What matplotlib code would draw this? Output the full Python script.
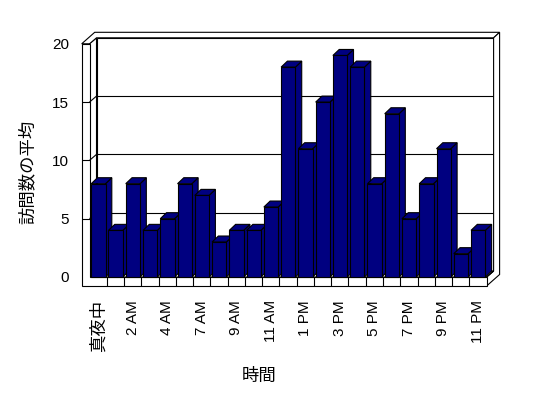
import matplotlib
matplotlib.use("Agg")
import matplotlib.pyplot as plt
from matplotlib.patches import Polygon

# ---- data ----
hours = ["真夜中", "1 AM", "2 AM", "3 AM", "4 AM", "5 AM", "7 AM", "8 AM", "9 AM",
         "10 AM", "11 AM", "12 PM", "1 PM", "2 PM", "3 PM", "4 PM", "5 PM", "6 PM",
         "7 PM", "8 PM", "9 PM", "10 PM", "11 PM"]
visits = [8, 4, 8, 4, 5, 8, 7, 3, 4, 4, 6, 18, 11, 15, 19, 18, 8, 14, 5, 8, 11, 2, 4]
y_ticks = [0, 5, 10, 15, 20]
x_title = "時間"
y_title = "訪問数の平均"

W, H = 548, 398
fig = plt.figure(figsize=(W / 100, H / 100), dpi=100)
fig.patch.set_facecolor("white")

# front plane in pixels
px_left, px_right = 89.5, 486.6
px_zero, px_top = 277.0, 43.8
ax = fig.add_axes([px_left / W, (H - px_zero) / H,
                   (px_right - px_left) / W, (px_zero - px_top) / H])
n = len(visits)
ymax = 20
ax.set_xlim(0, n)
ax.set_ylim(0, ymax)
for s in ax.spines.values():
    s.set_visible(False)
ax.patch.set_visible(False)

ppc = (px_right - px_left) / n          # pixels per category
ppv = (px_zero - px_top) / ymax         # pixels per value unit

def off(dx_px, dy_px):
    return dx_px / ppc, dy_px / ppv

D1x, D1y = off(7, 6)       # back wall front face depth
D2x, D2y = off(13, 11.5)   # back wall back face depth
Bx, By = off(6.3, 6)       # bar depth
xL = -7.8 / ppc            # left wall outer edge
fth = 9 / ppv              # floor thickness
xR = n

EC = "black"
LW = 0.8

def poly(pts, fc="white", z=1):
    ax.add_patch(Polygon(pts, closed=True, facecolor=fc, edgecolor=EC,
                         linewidth=LW, clip_on=False, zorder=z, joinstyle="miter"))

def line(xs, ys, z=2):
    ax.plot(xs, ys, color=EC, linewidth=LW, clip_on=False, zorder=z,
            solid_capstyle="butt")

# back wall front face
poly([(D1x, D1y), (xR + D1x, D1y), (xR + D1x, ymax + D1y), (D1x, ymax + D1y)], z=1)
# gridlines on back wall + left wall inner face
for v in y_ticks[1:-1]:
    line([D1x, xR + D1x], [v + D1y, v + D1y], z=1.5)
# left wall inner face
poly([(0, 0), (0, ymax), (D1x, ymax + D1y), (D1x, D1y)], z=2)
for v in y_ticks[1:-1]:
    line([0, D1x], [v, v + D1y], z=2.1)
# top (L-shaped)
poly([(xL, ymax), (0, ymax), (D1x, ymax + D1y), (xR + D1x, ymax + D1y),
      (xR + D2x, ymax + D2y), (xL + D2x, ymax + D2y)], z=2)
# right end (back wall + floor side)
poly([(xR, -fth), (xR, 0), (xR + D1x, D1y), (xR + D1x, ymax + D1y),
      (xR + D2x, ymax + D2y), (xR + D2x, -fth + D2y)], z=2)
line([xR, xR + D1x], [0, D1y], z=2.1)
# floor top
poly([(0, 0), (xR, 0), (xR + D1x, D1y), (D1x, D1y)], z=2)
# front face of left wall + floor (L-shaped)
poly([(xL, -fth), (xR, -fth), (xR, 0), (0, 0), (0, ymax), (xL, ymax)], z=2)
for v in y_ticks[1:-1]:
    line([xL, 0], [v, v], z=2.1)
for k in range(1, n):
    line([k, k], [-fth, 0], z=2.1)

# bars
bar_margin = 1.7 / ppc
bar_w = 14.3 / ppc
navy = "#000080"
for i, v in enumerate(visits):
    l = i + bar_margin
    r = l + bar_w
    z = 3 + i * 0.01
    poly([(r, 0), (r, v), (r + Bx, v + By), (r + Bx, By)], fc=navy, z=z)
    poly([(l, v), (r, v), (r + Bx, v + By), (l + Bx, v + By)], fc=navy, z=z)
    poly([(l, 0), (r, 0), (r, v), (l, v)], fc=navy, z=z + 0.005)

# ticks
lat = ["Liberation Sans", "Noto Sans CJK JP"]
cjk = ["Noto Sans CJK JP", "Liberation Sans"]
ax.set_yticks(y_ticks)
ax.set_yticklabels([str(t) for t in y_ticks], family=lat, fontsize=11)
ax.tick_params(axis="y", length=0, pad=(px_left - 69) * 0.72)
pos = [i + 0.5 for i in range(0, n, 2)]
ax.set_xticks(pos)
ax.set_xticklabels([hours[i] for i in range(0, n, 2)], rotation=90,
                   family=lat, fontsize=11)
ax.tick_params(axis="x", length=0, pad=(300 - px_zero) * 0.72)
tl = ax.get_xticklabels()
tl[0].set_family(cjk)
tl[0].set_fontsize(12.5)

fig.text(259.5 / W, 1 - 376 / H, x_title, ha="center", va="center",
         family=cjk, fontsize=12.5)
fig.text(28 / W, 1 - 172 / H, y_title, ha="center", va="center", rotation=90,
         family=cjk, fontsize=12.5)

fig.savefig("out.png", dpi=100, facecolor="white")
